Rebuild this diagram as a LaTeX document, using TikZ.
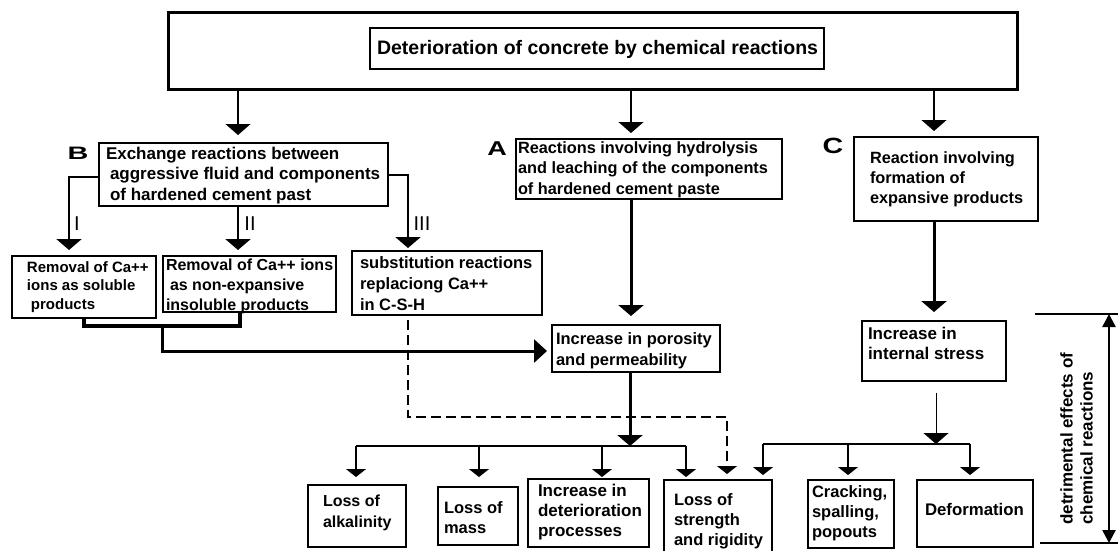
\documentclass[tikz,border=0pt]{standalone}
\usepackage{fontspec}
\setmainfont{Liberation Sans}
\usetikzlibrary{arrows.meta}
\newcommand\mkbox[9]{%
 \pgfmathsetmacro\bxw{#4-#2}%
 \pgfmathsetmacro\bxh{#5-#3}%
 \node[bx, minimum width=\bxw pt, minimum height=\bxh pt] (#1) at (#2,#3)
 {\parbox[c][\bxh pt][t]{\bxw pt}{\fontsize#8\selectfont\hspace*{#6pt}\begin{tabular}[t]{@{}l@{}}\rule{0pt}{#7pt}#9\end{tabular}}};%
}
\begin{document}
\begin{tikzpicture}[x=1pt,y=-1pt,
  bx/.style={draw, line width=1.3pt, inner sep=0pt, outer sep=0pt, anchor=north west, font=\bfseries},
  lbl/.style={inner sep=0pt, font=\bfseries},
  rom/.style={inner sep=0pt, font=\fontsize{20}{21}\selectfont},
  thinc/.style={line width=1.3pt},
  midc/.style={line width=2.5pt},
  thickc/.style={line width=3pt},
  bigtri/.tip={Triangle[width=25pt,length=11pt]},
  smalltri/.tip={Triangle[width=20pt,length=8pt]},
  righttri/.tip={Triangle[width=23pt,length=13pt]},
  bartri/.tip={Triangle[width=13pt,length=13pt]}]
\fill[white] (0,0) rectangle (1118,550);
\useasboundingbox (0,0) rectangle (1118,550);

% boxes
\node[draw, line width=3pt, inner sep=0pt, outer sep=0pt, anchor=north west, minimum width=849pt, minimum height=77pt] (top) at (168,12) {};
\mkbox{title}{370}{28}{824}{69}{7}{26}{{19.5}{23}}{Deterioration of concrete by chemical reactions}
\mkbox{Bbox}{99}{143}{388}{206}{7}{16}{{17}{20.5}}{Exchange reactions between\\\hspace*{4pt}aggressive fluid and components\\\hspace*{4pt}of hardened cement past}
\mkbox{Abox}{516}{139}{782}{199}{2}{14}{{16.3}{20.5}}{Reactions involving hydrolysis\\and leaching of the components\\of hardened cement paste}
\mkbox{Cbox}{854}{137}{1038}{221}{16}{26}{{16.3}{20}}{Reaction involving\\formation of\\expansive products}
\mkbox{B1}{12}{256}{156}{318}{15}{16}{{15}{18.5}}{Removal of Ca++\\ions as soluble\\\hspace*{4pt}products}
\mkbox{B2}{163}{256}{336}{312}{3}{13}{{16}{20}}{Removal of Ca++ ions\\\hspace*{4pt}as non-expansive\\insoluble products}
\mkbox{B3}{352}{251}{542}{315}{8}{17}{{16.5}{21}}{substitution reactions\\replaciong Ca++\\in C-S-H}
\mkbox{Por}{552}{325}{720}{372}{4}{19}{{16.5}{21}}{Increase in porosity\\and permeability}
\mkbox{IS}{862}{321}{1006}{381}{6}{18}{{17}{20}}{Increase in\\internal stress}
\mkbox{Alk}{308}{485}{406}{547}{15}{21}{{16}{21}}{Loss of\\alkalinity}
\mkbox{Mass}{438}{487}{518}{545}{6}{26}{{16.5}{20}}{Loss of\\mass}
\mkbox{Det}{528}{479}{649}{547}{10}{17}{{17}{20}}{Increase in\\deterioration\\processes}
\mkbox{Str}{664}{480}{772}{553}{10}{25}{{16.5}{20}}{Loss of\\strength\\and rigidity}
\mkbox{Crk}{808}{480}{894}{548}{4}{17}{{16.5}{20}}{Cracking,\\spalling,\\popouts}
\mkbox{Def}{917}{480}{1033}{547}{8}{35}{{16.8}{20}}{Deformation}

% letters and numerals
\node[lbl, font=\bfseries\fontsize{18}{20}\selectfont] (labB) at (78,153) {\scalebox{1.6}[1]{B}};
\node[lbl, font=\bfseries\fontsize{20}{22}\selectfont] (labA) at (497,149) {\scalebox{1.35}[1]{A}};
\node[lbl, font=\bfseries\fontsize{22}{24}\selectfont] (labC) at (833,146) {\scalebox{1.3}[1]{C}};
\node[rom] (rI) at (77,224) {I};
\node[rom] (rII) at (250,224) {II};
\node[rom] (rIII) at (422,224) {III};

% helper coordinates
\coordinate (xB) at (238,0);
\coordinate (xA) at (631,0);
\coordinate (xC) at (934,0);
\coordinate (bI) at (69,177);
\coordinate (bIII) at (408,175);
\coordinate (j1) at (84,326);
\coordinate (j2) at (240,326);
\coordinate (j3) at (162,326);
\coordinate (j4) at (162,351);
\coordinate (d1) at (408,417);
\coordinate (d2) at (727,417);
\coordinate (p1) at (630,446);
\coordinate (pL) at (356,446);
\coordinate (px2) at (479,446);
\coordinate (px3) at (602,446);
\coordinate (pR) at (686,446);
\coordinate (q1) at (936,444);
\coordinate (qL) at (763,444);
\coordinate (qM) at (848,444);
\coordinate (qR) at (970,444);
\coordinate (brTL) at (1035,314);
\coordinate (brTR) at (1118,314);
\coordinate (brBL) at (1040,543);
\coordinate (brBR) at (1118,543);
\coordinate (brT) at (1109,314);
\coordinate (brB) at (1109,543);

% top arrows
\draw[thinc, -{bigtri}, shorten >=8pt] (top.south -| xB) -- (Bbox.north -| xB);
\draw[thinc, -{bigtri}, shorten >=6pt] (top.south -| xA) -- (Abox.north -| xA);
\draw[thinc, -{bigtri}, shorten >=6pt] (top.south -| xC) -- (Cbox.north -| xC);

% B branches
\draw[midc, -{bigtri}, shorten >=6pt] (Bbox.west |- bI) -| (B1.north -| bI);
\draw[midc, -{bigtri}, shorten >=6pt] (Bbox.south -| xB) -- (B2.north -| xB);
\draw[midc, -{bigtri}, shorten >=3pt] (Bbox.east |- bIII) -| (B3.north -| bIII);

% A down
\draw[thickc, -{bigtri}, shorten >=9pt] (Abox.south -| xA) -- (Por.north -| xA);

% B1/B2 join to porosity
\draw[line width=4pt] (B1.south -| j1) -- (j1) -- (j2) -- (B2.south -| j2);
\draw[thickc, -{righttri}, shorten >=5pt] (j3) -- (j4) -- (Por.west |- j4);

% dashed from B3
\draw[line width=1.3pt, dash pattern=on 10pt off 5pt, -{smalltri}, shorten <=5pt, shorten >=6pt] (B3.south -| d1) -- (d1) -- (d2) -- (Str.north -| d2);

% porosity down and distribution
\draw[thickc, -{bigtri}] (Por.south -| p1) -- (p1);
\draw[thinc] (pL) -- (pR);
\draw[thinc, -{smalltri}, shorten >=8pt] (pL) -- (Alk.north -| pL);
\draw[thinc, -{smalltri}, shorten >=10pt] (px2) -- (Mass.north -| px2);
\draw[thinc, -{smalltri}, shorten >=2pt] (px3) -- (Det.north -| px3);
\draw[thinc, -{smalltri}, shorten >=3pt] (pR) -- (Str.north -| pR);

% C down
\draw[thickc, -{bigtri}, shorten >=9pt] (Cbox.south -| xC) -- (IS.north -| xC);
\draw[line width=1pt, -{bigtri}, shorten <=12pt] (IS.south -| q1) -- (q1);
\draw[thinc] (qL) -- (qR);
\draw[thinc, -{smalltri}, shorten >=5pt] (qL) -- (Str.north -| qL);
\draw[thinc, -{smalltri}, shorten >=5pt] (qM) -- (Crk.north -| qM);
\draw[thinc, -{smalltri}, shorten >=5pt] (qR) -- (Def.north -| qR);

% bracket
\draw[line width=1.5pt] (brTL) -- (brTR);
\draw[line width=1.5pt] (brBL) -- (brBR);
\draw[line width=2.5pt, {bartri}-{bartri}] (brT) -- (brB);
\node[rotate=90, anchor=north west, align=left, inner sep=0pt, font=\bfseries\fontsize{17}{20}\selectfont] (det) at (1060,525) {detrimental effects of\\chemical reactions};
\end{tikzpicture}
\end{document}
